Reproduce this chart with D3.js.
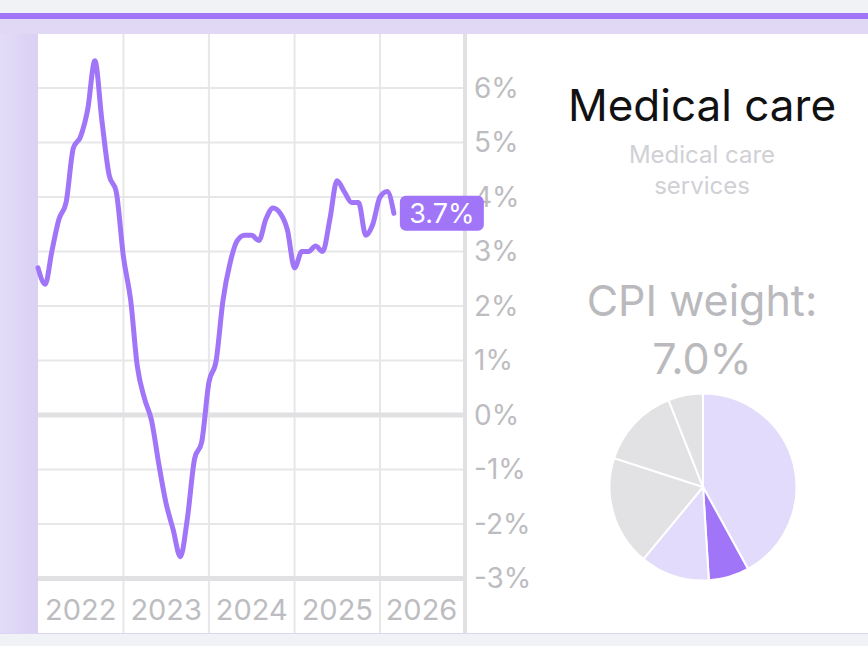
<!DOCTYPE html>
<html>
<head>
<meta charset="utf-8">
<script src="https://cdn.jsdelivr.net/npm/d3@7"></script>
<style>
  body { margin: 0; background: #f1f2f6; }
  text { font-family: Inter, "Noto Sans", sans-serif; }
</style>
</head>
<body>
<div class="chart"></div>
<script>
// monthly y/y change, medical care services, starting Jan 2022
const startMonth = "2022-01";
const values = [
  2.7, 2.4, 3.0, 3.6, 3.9, 4.9, 5.1, 5.6, 6.5, 5.4, 4.4, 4.1,
  2.9, 2.1, 0.9, 0.3, -0.1, -0.9, -1.6, -2.1, -2.6, -1.9, -0.8, -0.5,
  0.6, 1.0, 2.1, 2.8, 3.2, 3.3, 3.3, 3.2, 3.6, 3.8, 3.7, 3.4,
  2.7, 3.0, 3.0, 3.1, 3.0, 3.6, 4.3, 4.1, 3.9, 3.9, 3.3, 3.5,
  4.0, 4.1, 3.7
];
const yTicks = [-3, -2, -1, 0, 1, 2, 3, 4, 5, 6];
const years = ["2022", "2023", "2024", "2025", "2026"];

const title = "Medical care";
const subtitle = ["Medical care", "services"];
const cpiWeight = 7.0;

// CPI weight breakdown, clockwise from 12 o'clock
const pieNames = ["Other services", "Medical care services", "Core goods", "Shelter", "Food", "Energy"];
const pieValues = [42, 7, 12, 19, 14, 6];
const pieColors = ["#e3dbfb", "#a175f8", "#e3dbfb", "#e2e2e4", "#e2e2e4", "#e2e2e4"];

let dims = { height: 646, width: 868 };
const purple = "#a175f8";
const gridColor = "#e7e7e9";
const axisColor = "#e1e1e3";
const labelColor = "#bdbdc1";

let svg = d3
  .select(".chart")
  .append("svg")
  .attr("height", dims.height)
  .attr("width", dims.width);

let defs = svg.append("defs");
let sideGrad = defs.append("linearGradient").attr("id", "side").attr("x1", 0).attr("x2", 1);
sideGrad.append("stop").attr("offset", 0).attr("stop-color", "#e3dcf8");
sideGrad.append("stop").attr("offset", 1).attr("stop-color", "#d9d0f3");

// frame
svg.append("rect").attr("width", dims.width).attr("height", dims.height).attr("fill", "#f1f2f6");
svg.append("rect").attr("y", 13).attr("width", dims.width).attr("height", 6).attr("fill", purple);
svg.append("rect").attr("y", 19).attr("width", dims.width).attr("height", 15).attr("fill", "#e1d8f6");
svg.append("rect").attr("y", 34).attr("width", 38).attr("height", 600).attr("fill", "url(#side)");
svg.append("rect").attr("x", 38).attr("y", 34).attr("width", 830).attr("height", 599).attr("fill", "#fff");
svg.append("rect").attr("x", 0).attr("y", 633).attr("width", dims.width).attr("height", 1).attr("fill", "#ddd5f4");

const parseMonth = d3.timeParse("%Y-%m");
const start = parseMonth(startMonth);
const data = values.map((v, i) => ({ date: d3.timeMonth.offset(start, i), value: v }));

let x = d3
  .scaleTime()
  .domain([new Date(2022, 0, 1), new Date(2027, 0, 1)])
  .range([38, 465.5]);

let y = d3.scaleLinear().domain([-3, 7]).range([578.5, 33.5]);

let plot = svg.append("g").attr("class", "plot");

// vertical year grid
plot
  .selectAll(".vgrid")
  .data(years.slice(1))
  .join("line")
  .attr("class", "vgrid")
  .attr("x1", (d) => x(new Date(+d, 0, 1)))
  .attr("x2", (d) => x(new Date(+d, 0, 1)))
  .attr("y1", 34)
  .attr("y2", 633)
  .attr("stroke", gridColor)
  .attr("stroke-width", 2);

// horizontal grid
plot
  .selectAll(".hgrid")
  .data(yTicks)
  .join("line")
  .attr("class", "hgrid")
  .attr("x1", 38)
  .attr("x2", 463)
  .attr("y1", (d) => y(d))
  .attr("y2", (d) => y(d))
  .attr("stroke", (d) => (d === 0 || d === -3 ? axisColor : gridColor))
  .attr("stroke-width", (d) => (d === 0 || d === -3 ? 5 : 2));

// right axis line
plot
  .append("line")
  .attr("x1", 465)
  .attr("x2", 465)
  .attr("y1", 34)
  .attr("y2", 633)
  .attr("stroke", axisColor)
  .attr("stroke-width", 4);

// year labels, centred in each year
plot
  .selectAll(".year")
  .data(years)
  .join("text")
  .attr("class", "year")
  .attr("x", (d) => (x(new Date(+d, 0, 1)) + Math.min(463, x(new Date(+d + 1, 0, 1)))) / 2)
  .attr("y", 620)
  .attr("text-anchor", "middle")
  .style("font-size", "29px")
  .style("fill", labelColor)
  .text((d) => d);

// y labels
plot
  .selectAll(".ylab")
  .data(yTicks)
  .join("text")
  .attr("class", "ylab")
  .attr("x", 474)
  .attr("y", (d) => y(d))
  .attr("dy", "0.35em")
  .style("font-size", "28px")
  .style("fill", labelColor)
  .text((d) => d + "%");

// line
let line = d3
  .line()
  .x((d) => x(d.date))
  .y((d) => y(d.value))
  .curve(d3.curveMonotoneX);

plot
  .append("path")
  .datum(data)
  .attr("d", line)
  .attr("fill", "none")
  .attr("stroke", purple)
  .attr("stroke-width", 5)
  .attr("stroke-linejoin", "round")
  .attr("stroke-linecap", "round");

// last value badge
const last = data[data.length - 1];
let badge = plot
  .append("g")
  .attr("transform", `translate(${x(last.date) + 6}, ${y(last.value)})`);
badge
  .append("rect")
  .attr("y", -17.5)
  .attr("width", 84)
  .attr("height", 35)
  .attr("rx", 6)
  .attr("fill", purple);
badge
  .append("text")
  .attr("x", 42)
  .attr("dy", "0.36em")
  .attr("text-anchor", "middle")
  .style("font-size", "27px")
  .style("fill", "#fff")
  .text(last.value.toFixed(1) + "%");

// right panel
const cx = 702;
svg
  .append("text")
  .attr("x", cx)
  .attr("y", 121)
  .attr("text-anchor", "middle")
  .style("font-size", "44px")
  .style("fill", "#111")
  .text(title);

svg
  .append("text")
  .attr("text-anchor", "middle")
  .style("font-size", "24px")
  .style("fill", "#d0d0d5")
  .selectAll("tspan")
  .data(subtitle)
  .join("tspan")
  .attr("x", cx)
  .attr("y", (d, i) => 163 + i * 31)
  .text((d) => d);

svg
  .append("text")
  .attr("x", cx)
  .attr("y", 316)
  .attr("text-anchor", "middle")
  .style("font-size", "43px")
  .style("fill", "#bababe")
  .text("CPI weight:");

svg
  .append("text")
  .attr("x", cx)
  .attr("y", 374)
  .attr("text-anchor", "middle")
  .style("font-size", "43px")
  .style("fill", "#bababe")
  .text(cpiWeight.toFixed(1) + "%");

// pie
let pie = d3.pie().sort(null).value((d) => d);
let arc = d3.arc().innerRadius(0).outerRadius(93.5);

svg
  .append("g")
  .attr("transform", `translate(${703}, ${487})`)
  .selectAll("path")
  .data(pie(pieValues))
  .join("path")
  .attr("d", arc)
  .attr("fill", (d, i) => pieColors[i])
  .attr("stroke", "#fff")
  .attr("stroke-width", 2)
  .append("title")
  .text((d, i) => pieNames[i] + ": " + d.data + "%");
</script>
</body>
</html>
